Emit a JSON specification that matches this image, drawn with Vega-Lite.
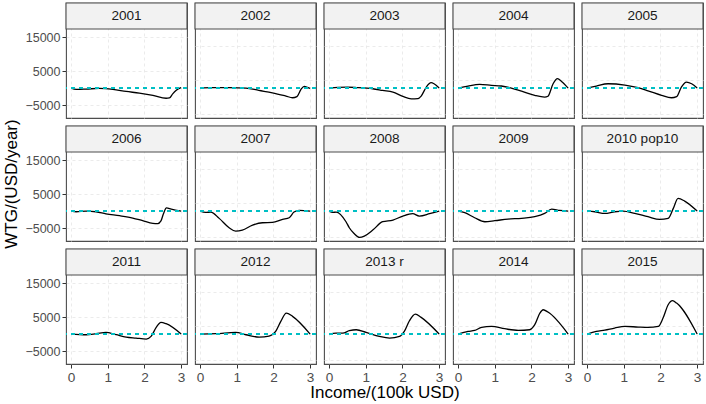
{
  "$schema": "https://vega.github.io/schema/vega-lite/v6.json",
  "description": "WTG by income, one panel per survey year",
  "background": "white",
  "padding": {"left": 2, "top": 1, "right": 1, "bottom": 0},
  "data": {
    "values": [
      {"year": "2001", "income": 0, "wtg": 0}, {"year": "2001", "income": 0.14, "wtg": -400}, {"year": "2001", "income": 0.41, "wtg": -300}, {"year": "2001", "income": 0.77, "wtg": -100}, {"year": "2001", "income": 1.14, "wtg": -400}, {"year": "2001", "income": 1.5, "wtg": -1000}, {"year": "2001", "income": 1.86, "wtg": -1500}, {"year": "2001", "income": 2.23, "wtg": -2150}, {"year": "2001", "income": 2.59, "wtg": -3000}, {"year": "2001", "income": 2.68, "wtg": -2900}, {"year": "2001", "income": 2.77, "wtg": -1700}, {"year": "2001", "income": 2.86, "wtg": -700}, {"year": "2001", "income": 3, "wtg": 100},
      {"year": "2002", "income": 0, "wtg": 0}, {"year": "2002", "income": 0.3, "wtg": 100}, {"year": "2002", "income": 0.8, "wtg": 100}, {"year": "2002", "income": 1.25, "wtg": 0}, {"year": "2002", "income": 1.6, "wtg": -700}, {"year": "2002", "income": 1.97, "wtg": -1400}, {"year": "2002", "income": 2.34, "wtg": -2350}, {"year": "2002", "income": 2.52, "wtg": -2850}, {"year": "2002", "income": 2.64, "wtg": -2500}, {"year": "2002", "income": 2.75, "wtg": -400}, {"year": "2002", "income": 2.84, "wtg": 500}, {"year": "2002", "income": 2.93, "wtg": 200}, {"year": "2002", "income": 3, "wtg": -100},
      {"year": "2003", "income": 0, "wtg": 0}, {"year": "2003", "income": 0.25, "wtg": 200}, {"year": "2003", "income": 0.5, "wtg": 250}, {"year": "2003", "income": 0.75, "wtg": 150}, {"year": "2003", "income": 1.19, "wtg": -200}, {"year": "2003", "income": 1.46, "wtg": -700}, {"year": "2003", "income": 1.74, "wtg": -1200}, {"year": "2003", "income": 2.01, "wtg": -2450}, {"year": "2003", "income": 2.24, "wtg": -3150}, {"year": "2003", "income": 2.42, "wtg": -3100}, {"year": "2003", "income": 2.51, "wtg": -2350}, {"year": "2003", "income": 2.65, "wtg": 300}, {"year": "2003", "income": 2.78, "wtg": 1570}, {"year": "2003", "income": 2.86, "wtg": 1270}, {"year": "2003", "income": 3, "wtg": 0},
      {"year": "2004", "income": 0, "wtg": 0}, {"year": "2004", "income": 0.27, "wtg": 600}, {"year": "2004", "income": 0.59, "wtg": 1080}, {"year": "2004", "income": 0.91, "wtg": 800}, {"year": "2004", "income": 1.18, "wtg": 600}, {"year": "2004", "income": 1.45, "wtg": 0}, {"year": "2004", "income": 1.73, "wtg": -900}, {"year": "2004", "income": 2.09, "wtg": -2150}, {"year": "2004", "income": 2.36, "wtg": -2650}, {"year": "2004", "income": 2.45, "wtg": -2400}, {"year": "2004", "income": 2.59, "wtg": 1270}, {"year": "2004", "income": 2.71, "wtg": 2750}, {"year": "2004", "income": 2.82, "wtg": 1960}, {"year": "2004", "income": 3, "wtg": 0},
      {"year": "2005", "income": 0, "wtg": 0}, {"year": "2005", "income": 0.25, "wtg": 600}, {"year": "2005", "income": 0.57, "wtg": 1270}, {"year": "2005", "income": 1.03, "wtg": 880}, {"year": "2005", "income": 1.39, "wtg": 100}, {"year": "2005", "income": 1.66, "wtg": -800}, {"year": "2005", "income": 2.03, "wtg": -2150}, {"year": "2005", "income": 2.3, "wtg": -2850}, {"year": "2005", "income": 2.44, "wtg": -2500}, {"year": "2005", "income": 2.57, "wtg": 300}, {"year": "2005", "income": 2.71, "wtg": 1760}, {"year": "2005", "income": 2.85, "wtg": 1270}, {"year": "2005", "income": 3, "wtg": 0},
      {"year": "2006", "income": 0, "wtg": 0}, {"year": "2006", "income": 0.14, "wtg": -200}, {"year": "2006", "income": 0.41, "wtg": 0}, {"year": "2006", "income": 0.68, "wtg": -200}, {"year": "2006", "income": 0.95, "wtg": -800}, {"year": "2006", "income": 1.32, "wtg": -1370}, {"year": "2006", "income": 1.68, "wtg": -2060}, {"year": "2006", "income": 1.95, "wtg": -2840}, {"year": "2006", "income": 2.23, "wtg": -3630}, {"year": "2006", "income": 2.36, "wtg": -3700}, {"year": "2006", "income": 2.45, "wtg": -2900}, {"year": "2006", "income": 2.52, "wtg": -700}, {"year": "2006", "income": 2.6, "wtg": 950}, {"year": "2006", "income": 2.73, "wtg": 600}, {"year": "2006", "income": 3, "wtg": 0},
      {"year": "2007", "income": 0, "wtg": 0}, {"year": "2007", "income": 0.15, "wtg": -400}, {"year": "2007", "income": 0.29, "wtg": -300}, {"year": "2007", "income": 0.52, "wtg": -2150}, {"year": "2007", "income": 0.79, "wtg": -4900}, {"year": "2007", "income": 0.97, "wtg": -5880}, {"year": "2007", "income": 1.15, "wtg": -5590}, {"year": "2007", "income": 1.43, "wtg": -4120}, {"year": "2007", "income": 1.7, "wtg": -3430}, {"year": "2007", "income": 1.97, "wtg": -3330}, {"year": "2007", "income": 2.25, "wtg": -2450}, {"year": "2007", "income": 2.43, "wtg": -1960}, {"year": "2007", "income": 2.56, "wtg": -290}, {"year": "2007", "income": 2.7, "wtg": 200}, {"year": "2007", "income": 3, "wtg": 0},
      {"year": "2008", "income": 0, "wtg": 0}, {"year": "2008", "income": 0.1, "wtg": -400}, {"year": "2008", "income": 0.19, "wtg": -300}, {"year": "2008", "income": 0.46, "wtg": -3140}, {"year": "2008", "income": 0.55, "wtg": -4900}, {"year": "2008", "income": 0.68, "wtg": -6600}, {"year": "2008", "income": 0.83, "wtg": -7750}, {"year": "2008", "income": 0.96, "wtg": -7350}, {"year": "2008", "income": 1.19, "wtg": -5590}, {"year": "2008", "income": 1.46, "wtg": -3140}, {"year": "2008", "income": 1.74, "wtg": -2650}, {"year": "2008", "income": 2.01, "wtg": -1470}, {"year": "2008", "income": 2.28, "wtg": -780}, {"year": "2008", "income": 2.46, "wtg": -1470}, {"year": "2008", "income": 2.74, "wtg": -780}, {"year": "2008", "income": 3, "wtg": 0},
      {"year": "2009", "income": 0, "wtg": 0}, {"year": "2009", "income": 0.18, "wtg": -490}, {"year": "2009", "income": 0.45, "wtg": -1960}, {"year": "2009", "income": 0.73, "wtg": -3140}, {"year": "2009", "income": 1.0, "wtg": -2840}, {"year": "2009", "income": 1.36, "wtg": -2350}, {"year": "2009", "income": 1.73, "wtg": -2150}, {"year": "2009", "income": 2.09, "wtg": -1670}, {"year": "2009", "income": 2.36, "wtg": -690}, {"year": "2009", "income": 2.55, "wtg": 590}, {"year": "2009", "income": 2.77, "wtg": 200}, {"year": "2009", "income": 3, "wtg": 0},
      {"year": "2010 pop10", "income": 0, "wtg": 0}, {"year": "2010 pop10", "income": 0.21, "wtg": -200}, {"year": "2010 pop10", "income": 0.48, "wtg": -690}, {"year": "2010 pop10", "income": 0.75, "wtg": -200}, {"year": "2010 pop10", "income": 0.98, "wtg": 0}, {"year": "2010 pop10", "income": 1.3, "wtg": -690}, {"year": "2010 pop10", "income": 1.66, "wtg": -1670}, {"year": "2010 pop10", "income": 1.98, "wtg": -2450}, {"year": "2010 pop10", "income": 2.21, "wtg": -2150}, {"year": "2010 pop10", "income": 2.35, "wtg": 780}, {"year": "2010 pop10", "income": 2.48, "wtg": 3720}, {"year": "2010 pop10", "income": 2.66, "wtg": 2940}, {"year": "2010 pop10", "income": 3, "wtg": 0},
      {"year": "2011", "income": 0, "wtg": 0}, {"year": "2011", "income": 0.41, "wtg": -200}, {"year": "2011", "income": 0.68, "wtg": 100}, {"year": "2011", "income": 0.95, "wtg": 490}, {"year": "2011", "income": 1.23, "wtg": -200}, {"year": "2011", "income": 1.5, "wtg": -880}, {"year": "2011", "income": 1.77, "wtg": -1180}, {"year": "2011", "income": 2.05, "wtg": -1470}, {"year": "2011", "income": 2.18, "wtg": -690}, {"year": "2011", "income": 2.32, "wtg": 1960}, {"year": "2011", "income": 2.45, "wtg": 3430}, {"year": "2011", "income": 2.59, "wtg": 3040}, {"year": "2011", "income": 3, "wtg": 0},
      {"year": "2012", "income": 0, "wtg": 0}, {"year": "2012", "income": 0.43, "wtg": 100}, {"year": "2012", "income": 0.97, "wtg": 490}, {"year": "2012", "income": 1.25, "wtg": -200}, {"year": "2012", "income": 1.61, "wtg": -880}, {"year": "2012", "income": 1.88, "wtg": -590}, {"year": "2012", "income": 2.06, "wtg": 780}, {"year": "2012", "income": 2.2, "wtg": 3720}, {"year": "2012", "income": 2.35, "wtg": 6180}, {"year": "2012", "income": 2.52, "wtg": 5200}, {"year": "2012", "income": 3, "wtg": 0},
      {"year": "2013 r", "income": 0, "wtg": 0}, {"year": "2013 r", "income": 0.19, "wtg": 300}, {"year": "2013 r", "income": 0.37, "wtg": 300}, {"year": "2013 r", "income": 0.55, "wtg": 980}, {"year": "2013 r", "income": 0.74, "wtg": 1270}, {"year": "2013 r", "income": 1.01, "wtg": 490}, {"year": "2013 r", "income": 1.37, "wtg": -690}, {"year": "2013 r", "income": 1.65, "wtg": -1180}, {"year": "2013 r", "income": 1.92, "wtg": -690}, {"year": "2013 r", "income": 2.05, "wtg": 780}, {"year": "2013 r", "income": 2.19, "wtg": 3920}, {"year": "2013 r", "income": 2.35, "wtg": 5880}, {"year": "2013 r", "income": 2.51, "wtg": 4900}, {"year": "2013 r", "income": 3, "wtg": 0},
      {"year": "2014", "income": 0, "wtg": 0}, {"year": "2014", "income": 0.27, "wtg": 780}, {"year": "2014", "income": 0.45, "wtg": 1080}, {"year": "2014", "income": 0.64, "wtg": 1960}, {"year": "2014", "income": 0.91, "wtg": 2250}, {"year": "2014", "income": 1.27, "wtg": 1570}, {"year": "2014", "income": 1.64, "wtg": 1080}, {"year": "2014", "income": 1.95, "wtg": 1270}, {"year": "2014", "income": 2.09, "wtg": 2750}, {"year": "2014", "income": 2.23, "wtg": 6180}, {"year": "2014", "income": 2.32, "wtg": 7150}, {"year": "2014", "income": 2.45, "wtg": 6470}, {"year": "2014", "income": 3, "wtg": 0},
      {"year": "2015", "income": 0, "wtg": 0}, {"year": "2015", "income": 0.25, "wtg": 780}, {"year": "2015", "income": 0.48, "wtg": 1170}, {"year": "2015", "income": 0.75, "wtg": 1760}, {"year": "2015", "income": 1.03, "wtg": 2250}, {"year": "2015", "income": 1.39, "wtg": 2060}, {"year": "2015", "income": 1.66, "wtg": 1960}, {"year": "2015", "income": 1.94, "wtg": 2250}, {"year": "2015", "income": 2.07, "wtg": 4700}, {"year": "2015", "income": 2.21, "wtg": 8620}, {"year": "2015", "income": 2.33, "wtg": 9800}, {"year": "2015", "income": 2.44, "wtg": 9110}, {"year": "2015", "income": 3, "wtg": 0}
    ]
  },
  "columns": 5,
  "bounds": "flush",
  "spacing": {"row": 8, "column": 8},
  "concat": [
    {"transform": [{"filter": "datum.year == '2001'"}], "width": 121, "height": 115, "layer": [
      {"mark": {"type": "line", "color": "black", "strokeWidth": 1.3, "interpolate": "monotone"}, "encoding": {
        "x": {"field": "income", "type": "quantitative", "title": null, "scale": {"domain": [-0.14, 3.16], "nice": false, "zero": false}, "axis": {"values": [0, 0.5, 1, 1.5, 2, 2.5, 3], "labels": false, "ticks": false}},
        "y": {"field": "wtg", "type": "quantitative", "title": null, "scale": {"domain": [-8800, 25000], "nice": false, "zero": false}, "axis": {"values": [-5000, 0, 5000, 10000, 15000], "format": "d", "labelOverlap": false, "labelSeparation": -4, "labelFontSize": 12.5}}}},
      {"mark": {"type": "rule", "color": "#00BFC4", "strokeWidth": 1.3, "strokeDash": [4, 4]}, "encoding": {"y": {"datum": 0, "type": "quantitative", "title": null}}},
      {"transform": [{"aggregate": [{"op": "count", "as": "n"}], "groupby": ["year"]}], "mark": {"type": "rect", "fill": "#F2F2F2", "stroke": "#4D4D4D", "strokeWidth": 1.1}, "encoding": {"x": {"datum": -0.14, "type": "quantitative", "title": null}, "x2": {"datum": 3.16}, "y": {"datum": 17350, "type": "quantitative", "title": null}, "y2": {"datum": 25000}}},
      {"transform": [{"aggregate": [{"op": "count", "as": "n"}], "groupby": ["year"]}], "mark": {"type": "text", "fontSize": 13.6, "color": "#1A1A1A"}, "encoding": {"x": {"datum": 1.51, "type": "quantitative", "title": null}, "y": {"datum": 21175, "type": "quantitative", "title": null}, "text": {"field": "year", "type": "nominal"}}}
    ]},
    {"transform": [{"filter": "datum.year == '2002'"}], "width": 121, "height": 115, "layer": [
      {"mark": {"type": "line", "color": "black", "strokeWidth": 1.3, "interpolate": "monotone"}, "encoding": {
        "x": {"field": "income", "type": "quantitative", "title": null, "scale": {"domain": [-0.14, 3.16], "nice": false, "zero": false}, "axis": {"values": [0, 0.5, 1, 1.5, 2, 2.5, 3], "labels": false, "ticks": false}},
        "y": {"field": "wtg", "type": "quantitative", "title": null, "scale": {"domain": [-8800, 25000], "nice": false, "zero": false}, "axis": {"values": [-7500, -5000, -2500, 0, 2500, 5000, 7500, 10000, 12500, 15000], "labels": false, "ticks": false}}}},
      {"mark": {"type": "rule", "color": "#00BFC4", "strokeWidth": 1.3, "strokeDash": [4, 4]}, "encoding": {"y": {"datum": 0, "type": "quantitative", "title": null}}},
      {"transform": [{"aggregate": [{"op": "count", "as": "n"}], "groupby": ["year"]}], "mark": {"type": "rect", "fill": "#F2F2F2", "stroke": "#4D4D4D", "strokeWidth": 1.1}, "encoding": {"x": {"datum": -0.14, "type": "quantitative", "title": null}, "x2": {"datum": 3.16}, "y": {"datum": 17350, "type": "quantitative", "title": null}, "y2": {"datum": 25000}}},
      {"transform": [{"aggregate": [{"op": "count", "as": "n"}], "groupby": ["year"]}], "mark": {"type": "text", "fontSize": 13.6, "color": "#1A1A1A"}, "encoding": {"x": {"datum": 1.51, "type": "quantitative", "title": null}, "y": {"datum": 21175, "type": "quantitative", "title": null}, "text": {"field": "year", "type": "nominal"}}}
    ]},
    {"transform": [{"filter": "datum.year == '2003'"}], "width": 121, "height": 115, "layer": [
      {"mark": {"type": "line", "color": "black", "strokeWidth": 1.3, "interpolate": "monotone"}, "encoding": {
        "x": {"field": "income", "type": "quantitative", "title": null, "scale": {"domain": [-0.14, 3.16], "nice": false, "zero": false}, "axis": {"values": [0, 0.5, 1, 1.5, 2, 2.5, 3], "labels": false, "ticks": false}},
        "y": {"field": "wtg", "type": "quantitative", "title": null, "scale": {"domain": [-8800, 25000], "nice": false, "zero": false}, "axis": {"values": [-7500, -5000, -2500, 0, 2500, 5000, 7500, 10000, 12500, 15000], "labels": false, "ticks": false}}}},
      {"mark": {"type": "rule", "color": "#00BFC4", "strokeWidth": 1.3, "strokeDash": [4, 4]}, "encoding": {"y": {"datum": 0, "type": "quantitative", "title": null}}},
      {"transform": [{"aggregate": [{"op": "count", "as": "n"}], "groupby": ["year"]}], "mark": {"type": "rect", "fill": "#F2F2F2", "stroke": "#4D4D4D", "strokeWidth": 1.1}, "encoding": {"x": {"datum": -0.14, "type": "quantitative", "title": null}, "x2": {"datum": 3.16}, "y": {"datum": 17350, "type": "quantitative", "title": null}, "y2": {"datum": 25000}}},
      {"transform": [{"aggregate": [{"op": "count", "as": "n"}], "groupby": ["year"]}], "mark": {"type": "text", "fontSize": 13.6, "color": "#1A1A1A"}, "encoding": {"x": {"datum": 1.51, "type": "quantitative", "title": null}, "y": {"datum": 21175, "type": "quantitative", "title": null}, "text": {"field": "year", "type": "nominal"}}}
    ]},
    {"transform": [{"filter": "datum.year == '2004'"}], "width": 121, "height": 115, "layer": [
      {"mark": {"type": "line", "color": "black", "strokeWidth": 1.3, "interpolate": "monotone"}, "encoding": {
        "x": {"field": "income", "type": "quantitative", "title": null, "scale": {"domain": [-0.14, 3.16], "nice": false, "zero": false}, "axis": {"values": [0, 0.5, 1, 1.5, 2, 2.5, 3], "labels": false, "ticks": false}},
        "y": {"field": "wtg", "type": "quantitative", "title": null, "scale": {"domain": [-8800, 25000], "nice": false, "zero": false}, "axis": {"values": [-7500, -5000, -2500, 0, 2500, 5000, 7500, 10000, 12500, 15000], "labels": false, "ticks": false}}}},
      {"mark": {"type": "rule", "color": "#00BFC4", "strokeWidth": 1.3, "strokeDash": [4, 4]}, "encoding": {"y": {"datum": 0, "type": "quantitative", "title": null}}},
      {"transform": [{"aggregate": [{"op": "count", "as": "n"}], "groupby": ["year"]}], "mark": {"type": "rect", "fill": "#F2F2F2", "stroke": "#4D4D4D", "strokeWidth": 1.1}, "encoding": {"x": {"datum": -0.14, "type": "quantitative", "title": null}, "x2": {"datum": 3.16}, "y": {"datum": 17350, "type": "quantitative", "title": null}, "y2": {"datum": 25000}}},
      {"transform": [{"aggregate": [{"op": "count", "as": "n"}], "groupby": ["year"]}], "mark": {"type": "text", "fontSize": 13.6, "color": "#1A1A1A"}, "encoding": {"x": {"datum": 1.51, "type": "quantitative", "title": null}, "y": {"datum": 21175, "type": "quantitative", "title": null}, "text": {"field": "year", "type": "nominal"}}}
    ]},
    {"transform": [{"filter": "datum.year == '2005'"}], "width": 121, "height": 115, "layer": [
      {"mark": {"type": "line", "color": "black", "strokeWidth": 1.3, "interpolate": "monotone"}, "encoding": {
        "x": {"field": "income", "type": "quantitative", "title": null, "scale": {"domain": [-0.14, 3.16], "nice": false, "zero": false}, "axis": {"values": [0, 0.5, 1, 1.5, 2, 2.5, 3], "labels": false, "ticks": false}},
        "y": {"field": "wtg", "type": "quantitative", "title": null, "scale": {"domain": [-8800, 25000], "nice": false, "zero": false}, "axis": {"values": [-7500, -5000, -2500, 0, 2500, 5000, 7500, 10000, 12500, 15000], "labels": false, "ticks": false}}}},
      {"mark": {"type": "rule", "color": "#00BFC4", "strokeWidth": 1.3, "strokeDash": [4, 4]}, "encoding": {"y": {"datum": 0, "type": "quantitative", "title": null}}},
      {"transform": [{"aggregate": [{"op": "count", "as": "n"}], "groupby": ["year"]}], "mark": {"type": "rect", "fill": "#F2F2F2", "stroke": "#4D4D4D", "strokeWidth": 1.1}, "encoding": {"x": {"datum": -0.14, "type": "quantitative", "title": null}, "x2": {"datum": 3.16}, "y": {"datum": 17350, "type": "quantitative", "title": null}, "y2": {"datum": 25000}}},
      {"transform": [{"aggregate": [{"op": "count", "as": "n"}], "groupby": ["year"]}], "mark": {"type": "text", "fontSize": 13.6, "color": "#1A1A1A"}, "encoding": {"x": {"datum": 1.51, "type": "quantitative", "title": null}, "y": {"datum": 21175, "type": "quantitative", "title": null}, "text": {"field": "year", "type": "nominal"}}}
    ]},
    {"transform": [{"filter": "datum.year == '2006'"}], "width": 121, "height": 115, "layer": [
      {"mark": {"type": "line", "color": "black", "strokeWidth": 1.3, "interpolate": "monotone"}, "encoding": {
        "x": {"field": "income", "type": "quantitative", "title": null, "scale": {"domain": [-0.14, 3.16], "nice": false, "zero": false}, "axis": {"values": [0, 0.5, 1, 1.5, 2, 2.5, 3], "labels": false, "ticks": false}},
        "y": {"field": "wtg", "type": "quantitative", "title": "WTG/(USD/year)", "scale": {"domain": [-8800, 25000], "nice": false, "zero": false}, "axis": {"values": [-5000, 0, 5000, 10000, 15000], "format": "d", "labelOverlap": false, "labelSeparation": -4, "labelFontSize": 12.5}}}},
      {"mark": {"type": "rule", "color": "#00BFC4", "strokeWidth": 1.3, "strokeDash": [4, 4]}, "encoding": {"y": {"datum": 0, "type": "quantitative", "title": null}}},
      {"transform": [{"aggregate": [{"op": "count", "as": "n"}], "groupby": ["year"]}], "mark": {"type": "rect", "fill": "#F2F2F2", "stroke": "#4D4D4D", "strokeWidth": 1.1}, "encoding": {"x": {"datum": -0.14, "type": "quantitative", "title": null}, "x2": {"datum": 3.16}, "y": {"datum": 17350, "type": "quantitative", "title": null}, "y2": {"datum": 25000}}},
      {"transform": [{"aggregate": [{"op": "count", "as": "n"}], "groupby": ["year"]}], "mark": {"type": "text", "fontSize": 13.6, "color": "#1A1A1A"}, "encoding": {"x": {"datum": 1.51, "type": "quantitative", "title": null}, "y": {"datum": 21175, "type": "quantitative", "title": null}, "text": {"field": "year", "type": "nominal"}}}
    ]},
    {"transform": [{"filter": "datum.year == '2007'"}], "width": 121, "height": 115, "layer": [
      {"mark": {"type": "line", "color": "black", "strokeWidth": 1.3, "interpolate": "monotone"}, "encoding": {
        "x": {"field": "income", "type": "quantitative", "title": null, "scale": {"domain": [-0.14, 3.16], "nice": false, "zero": false}, "axis": {"values": [0, 0.5, 1, 1.5, 2, 2.5, 3], "labels": false, "ticks": false}},
        "y": {"field": "wtg", "type": "quantitative", "title": null, "scale": {"domain": [-8800, 25000], "nice": false, "zero": false}, "axis": {"values": [-7500, -5000, -2500, 0, 2500, 5000, 7500, 10000, 12500, 15000], "labels": false, "ticks": false}}}},
      {"mark": {"type": "rule", "color": "#00BFC4", "strokeWidth": 1.3, "strokeDash": [4, 4]}, "encoding": {"y": {"datum": 0, "type": "quantitative", "title": null}}},
      {"transform": [{"aggregate": [{"op": "count", "as": "n"}], "groupby": ["year"]}], "mark": {"type": "rect", "fill": "#F2F2F2", "stroke": "#4D4D4D", "strokeWidth": 1.1}, "encoding": {"x": {"datum": -0.14, "type": "quantitative", "title": null}, "x2": {"datum": 3.16}, "y": {"datum": 17350, "type": "quantitative", "title": null}, "y2": {"datum": 25000}}},
      {"transform": [{"aggregate": [{"op": "count", "as": "n"}], "groupby": ["year"]}], "mark": {"type": "text", "fontSize": 13.6, "color": "#1A1A1A"}, "encoding": {"x": {"datum": 1.51, "type": "quantitative", "title": null}, "y": {"datum": 21175, "type": "quantitative", "title": null}, "text": {"field": "year", "type": "nominal"}}}
    ]},
    {"transform": [{"filter": "datum.year == '2008'"}], "width": 121, "height": 115, "layer": [
      {"mark": {"type": "line", "color": "black", "strokeWidth": 1.3, "interpolate": "monotone"}, "encoding": {
        "x": {"field": "income", "type": "quantitative", "title": null, "scale": {"domain": [-0.14, 3.16], "nice": false, "zero": false}, "axis": {"values": [0, 0.5, 1, 1.5, 2, 2.5, 3], "labels": false, "ticks": false}},
        "y": {"field": "wtg", "type": "quantitative", "title": null, "scale": {"domain": [-8800, 25000], "nice": false, "zero": false}, "axis": {"values": [-7500, -5000, -2500, 0, 2500, 5000, 7500, 10000, 12500, 15000], "labels": false, "ticks": false}}}},
      {"mark": {"type": "rule", "color": "#00BFC4", "strokeWidth": 1.3, "strokeDash": [4, 4]}, "encoding": {"y": {"datum": 0, "type": "quantitative", "title": null}}},
      {"transform": [{"aggregate": [{"op": "count", "as": "n"}], "groupby": ["year"]}], "mark": {"type": "rect", "fill": "#F2F2F2", "stroke": "#4D4D4D", "strokeWidth": 1.1}, "encoding": {"x": {"datum": -0.14, "type": "quantitative", "title": null}, "x2": {"datum": 3.16}, "y": {"datum": 17350, "type": "quantitative", "title": null}, "y2": {"datum": 25000}}},
      {"transform": [{"aggregate": [{"op": "count", "as": "n"}], "groupby": ["year"]}], "mark": {"type": "text", "fontSize": 13.6, "color": "#1A1A1A"}, "encoding": {"x": {"datum": 1.51, "type": "quantitative", "title": null}, "y": {"datum": 21175, "type": "quantitative", "title": null}, "text": {"field": "year", "type": "nominal"}}}
    ]},
    {"transform": [{"filter": "datum.year == '2009'"}], "width": 121, "height": 115, "layer": [
      {"mark": {"type": "line", "color": "black", "strokeWidth": 1.3, "interpolate": "monotone"}, "encoding": {
        "x": {"field": "income", "type": "quantitative", "title": null, "scale": {"domain": [-0.14, 3.16], "nice": false, "zero": false}, "axis": {"values": [0, 0.5, 1, 1.5, 2, 2.5, 3], "labels": false, "ticks": false}},
        "y": {"field": "wtg", "type": "quantitative", "title": null, "scale": {"domain": [-8800, 25000], "nice": false, "zero": false}, "axis": {"values": [-7500, -5000, -2500, 0, 2500, 5000, 7500, 10000, 12500, 15000], "labels": false, "ticks": false}}}},
      {"mark": {"type": "rule", "color": "#00BFC4", "strokeWidth": 1.3, "strokeDash": [4, 4]}, "encoding": {"y": {"datum": 0, "type": "quantitative", "title": null}}},
      {"transform": [{"aggregate": [{"op": "count", "as": "n"}], "groupby": ["year"]}], "mark": {"type": "rect", "fill": "#F2F2F2", "stroke": "#4D4D4D", "strokeWidth": 1.1}, "encoding": {"x": {"datum": -0.14, "type": "quantitative", "title": null}, "x2": {"datum": 3.16}, "y": {"datum": 17350, "type": "quantitative", "title": null}, "y2": {"datum": 25000}}},
      {"transform": [{"aggregate": [{"op": "count", "as": "n"}], "groupby": ["year"]}], "mark": {"type": "text", "fontSize": 13.6, "color": "#1A1A1A"}, "encoding": {"x": {"datum": 1.51, "type": "quantitative", "title": null}, "y": {"datum": 21175, "type": "quantitative", "title": null}, "text": {"field": "year", "type": "nominal"}}}
    ]},
    {"transform": [{"filter": "datum.year == '2010 pop10'"}], "width": 121, "height": 115, "layer": [
      {"mark": {"type": "line", "color": "black", "strokeWidth": 1.3, "interpolate": "monotone"}, "encoding": {
        "x": {"field": "income", "type": "quantitative", "title": null, "scale": {"domain": [-0.14, 3.16], "nice": false, "zero": false}, "axis": {"values": [0, 0.5, 1, 1.5, 2, 2.5, 3], "labels": false, "ticks": false}},
        "y": {"field": "wtg", "type": "quantitative", "title": null, "scale": {"domain": [-8800, 25000], "nice": false, "zero": false}, "axis": {"values": [-7500, -5000, -2500, 0, 2500, 5000, 7500, 10000, 12500, 15000], "labels": false, "ticks": false}}}},
      {"mark": {"type": "rule", "color": "#00BFC4", "strokeWidth": 1.3, "strokeDash": [4, 4]}, "encoding": {"y": {"datum": 0, "type": "quantitative", "title": null}}},
      {"transform": [{"aggregate": [{"op": "count", "as": "n"}], "groupby": ["year"]}], "mark": {"type": "rect", "fill": "#F2F2F2", "stroke": "#4D4D4D", "strokeWidth": 1.1}, "encoding": {"x": {"datum": -0.14, "type": "quantitative", "title": null}, "x2": {"datum": 3.16}, "y": {"datum": 17350, "type": "quantitative", "title": null}, "y2": {"datum": 25000}}},
      {"transform": [{"aggregate": [{"op": "count", "as": "n"}], "groupby": ["year"]}], "mark": {"type": "text", "fontSize": 13.6, "color": "#1A1A1A"}, "encoding": {"x": {"datum": 1.51, "type": "quantitative", "title": null}, "y": {"datum": 21175, "type": "quantitative", "title": null}, "text": {"field": "year", "type": "nominal"}}}
    ]},
    {"transform": [{"filter": "datum.year == '2011'"}], "width": 121, "height": 115, "layer": [
      {"mark": {"type": "line", "color": "black", "strokeWidth": 1.3, "interpolate": "monotone"}, "encoding": {
        "x": {"field": "income", "type": "quantitative", "title": null, "scale": {"domain": [-0.14, 3.16], "nice": false, "zero": false}, "axis": {"values": [0, 0.5, 1, 1.5, 2, 2.5, 3], "format": "~g", "labelOverlap": false, "labelExpr": "datum.value % 1 == 0 ? datum.label : ''", "tickOpacity": {"condition": {"test": "datum.value % 1 != 0", "value": 0}, "value": 1}, "labelFlush": false}},
        "y": {"field": "wtg", "type": "quantitative", "title": null, "scale": {"domain": [-8800, 25000], "nice": false, "zero": false}, "axis": {"values": [-5000, 0, 5000, 10000, 15000], "format": "d", "labelOverlap": false, "labelSeparation": -4, "labelFontSize": 12.5}}}},
      {"mark": {"type": "rule", "color": "#00BFC4", "strokeWidth": 1.3, "strokeDash": [4, 4]}, "encoding": {"y": {"datum": 0, "type": "quantitative", "title": null}}},
      {"transform": [{"aggregate": [{"op": "count", "as": "n"}], "groupby": ["year"]}], "mark": {"type": "rect", "fill": "#F2F2F2", "stroke": "#4D4D4D", "strokeWidth": 1.1}, "encoding": {"x": {"datum": -0.14, "type": "quantitative", "title": null}, "x2": {"datum": 3.16}, "y": {"datum": 17350, "type": "quantitative", "title": null}, "y2": {"datum": 25000}}},
      {"transform": [{"aggregate": [{"op": "count", "as": "n"}], "groupby": ["year"]}], "mark": {"type": "text", "fontSize": 13.6, "color": "#1A1A1A"}, "encoding": {"x": {"datum": 1.51, "type": "quantitative", "title": null}, "y": {"datum": 21175, "type": "quantitative", "title": null}, "text": {"field": "year", "type": "nominal"}}}
    ]},
    {"transform": [{"filter": "datum.year == '2012'"}], "width": 121, "height": 115, "layer": [
      {"mark": {"type": "line", "color": "black", "strokeWidth": 1.3, "interpolate": "monotone"}, "encoding": {
        "x": {"field": "income", "type": "quantitative", "title": null, "scale": {"domain": [-0.14, 3.16], "nice": false, "zero": false}, "axis": {"values": [0, 0.5, 1, 1.5, 2, 2.5, 3], "format": "~g", "labelOverlap": false, "labelExpr": "datum.value % 1 == 0 ? datum.label : ''", "tickOpacity": {"condition": {"test": "datum.value % 1 != 0", "value": 0}, "value": 1}, "labelFlush": false}},
        "y": {"field": "wtg", "type": "quantitative", "title": null, "scale": {"domain": [-8800, 25000], "nice": false, "zero": false}, "axis": {"values": [-7500, -5000, -2500, 0, 2500, 5000, 7500, 10000, 12500, 15000], "labels": false, "ticks": false}}}},
      {"mark": {"type": "rule", "color": "#00BFC4", "strokeWidth": 1.3, "strokeDash": [4, 4]}, "encoding": {"y": {"datum": 0, "type": "quantitative", "title": null}}},
      {"transform": [{"aggregate": [{"op": "count", "as": "n"}], "groupby": ["year"]}], "mark": {"type": "rect", "fill": "#F2F2F2", "stroke": "#4D4D4D", "strokeWidth": 1.1}, "encoding": {"x": {"datum": -0.14, "type": "quantitative", "title": null}, "x2": {"datum": 3.16}, "y": {"datum": 17350, "type": "quantitative", "title": null}, "y2": {"datum": 25000}}},
      {"transform": [{"aggregate": [{"op": "count", "as": "n"}], "groupby": ["year"]}], "mark": {"type": "text", "fontSize": 13.6, "color": "#1A1A1A"}, "encoding": {"x": {"datum": 1.51, "type": "quantitative", "title": null}, "y": {"datum": 21175, "type": "quantitative", "title": null}, "text": {"field": "year", "type": "nominal"}}}
    ]},
    {"transform": [{"filter": "datum.year == '2013 r'"}], "width": 121, "height": 115, "layer": [
      {"mark": {"type": "line", "color": "black", "strokeWidth": 1.3, "interpolate": "monotone"}, "encoding": {
        "x": {"field": "income", "type": "quantitative", "title": "Income/(100k USD)", "scale": {"domain": [-0.14, 3.16], "nice": false, "zero": false}, "axis": {"values": [0, 0.5, 1, 1.5, 2, 2.5, 3], "format": "~g", "labelOverlap": false, "labelExpr": "datum.value % 1 == 0 ? datum.label : ''", "tickOpacity": {"condition": {"test": "datum.value % 1 != 0", "value": 0}, "value": 1}, "labelFlush": false, "titlePadding": 1}},
        "y": {"field": "wtg", "type": "quantitative", "title": null, "scale": {"domain": [-8800, 25000], "nice": false, "zero": false}, "axis": {"values": [-7500, -5000, -2500, 0, 2500, 5000, 7500, 10000, 12500, 15000], "labels": false, "ticks": false}}}},
      {"mark": {"type": "rule", "color": "#00BFC4", "strokeWidth": 1.3, "strokeDash": [4, 4]}, "encoding": {"y": {"datum": 0, "type": "quantitative", "title": null}}},
      {"transform": [{"aggregate": [{"op": "count", "as": "n"}], "groupby": ["year"]}], "mark": {"type": "rect", "fill": "#F2F2F2", "stroke": "#4D4D4D", "strokeWidth": 1.1}, "encoding": {"x": {"datum": -0.14, "type": "quantitative", "title": null}, "x2": {"datum": 3.16}, "y": {"datum": 17350, "type": "quantitative", "title": null}, "y2": {"datum": 25000}}},
      {"transform": [{"aggregate": [{"op": "count", "as": "n"}], "groupby": ["year"]}], "mark": {"type": "text", "fontSize": 13.6, "color": "#1A1A1A"}, "encoding": {"x": {"datum": 1.51, "type": "quantitative", "title": null}, "y": {"datum": 21175, "type": "quantitative", "title": null}, "text": {"field": "year", "type": "nominal"}}}
    ]},
    {"transform": [{"filter": "datum.year == '2014'"}], "width": 121, "height": 115, "layer": [
      {"mark": {"type": "line", "color": "black", "strokeWidth": 1.3, "interpolate": "monotone"}, "encoding": {
        "x": {"field": "income", "type": "quantitative", "title": null, "scale": {"domain": [-0.14, 3.16], "nice": false, "zero": false}, "axis": {"values": [0, 0.5, 1, 1.5, 2, 2.5, 3], "format": "~g", "labelOverlap": false, "labelExpr": "datum.value % 1 == 0 ? datum.label : ''", "tickOpacity": {"condition": {"test": "datum.value % 1 != 0", "value": 0}, "value": 1}, "labelFlush": false}},
        "y": {"field": "wtg", "type": "quantitative", "title": null, "scale": {"domain": [-8800, 25000], "nice": false, "zero": false}, "axis": {"values": [-7500, -5000, -2500, 0, 2500, 5000, 7500, 10000, 12500, 15000], "labels": false, "ticks": false}}}},
      {"mark": {"type": "rule", "color": "#00BFC4", "strokeWidth": 1.3, "strokeDash": [4, 4]}, "encoding": {"y": {"datum": 0, "type": "quantitative", "title": null}}},
      {"transform": [{"aggregate": [{"op": "count", "as": "n"}], "groupby": ["year"]}], "mark": {"type": "rect", "fill": "#F2F2F2", "stroke": "#4D4D4D", "strokeWidth": 1.1}, "encoding": {"x": {"datum": -0.14, "type": "quantitative", "title": null}, "x2": {"datum": 3.16}, "y": {"datum": 17350, "type": "quantitative", "title": null}, "y2": {"datum": 25000}}},
      {"transform": [{"aggregate": [{"op": "count", "as": "n"}], "groupby": ["year"]}], "mark": {"type": "text", "fontSize": 13.6, "color": "#1A1A1A"}, "encoding": {"x": {"datum": 1.51, "type": "quantitative", "title": null}, "y": {"datum": 21175, "type": "quantitative", "title": null}, "text": {"field": "year", "type": "nominal"}}}
    ]},
    {"transform": [{"filter": "datum.year == '2015'"}], "width": 121, "height": 115, "layer": [
      {"mark": {"type": "line", "color": "black", "strokeWidth": 1.3, "interpolate": "monotone"}, "encoding": {
        "x": {"field": "income", "type": "quantitative", "title": null, "scale": {"domain": [-0.14, 3.16], "nice": false, "zero": false}, "axis": {"values": [0, 0.5, 1, 1.5, 2, 2.5, 3], "format": "~g", "labelOverlap": false, "labelExpr": "datum.value % 1 == 0 ? datum.label : ''", "tickOpacity": {"condition": {"test": "datum.value % 1 != 0", "value": 0}, "value": 1}, "labelFlush": false}},
        "y": {"field": "wtg", "type": "quantitative", "title": null, "scale": {"domain": [-8800, 25000], "nice": false, "zero": false}, "axis": {"values": [-7500, -5000, -2500, 0, 2500, 5000, 7500, 10000, 12500, 15000], "labels": false, "ticks": false}}}},
      {"mark": {"type": "rule", "color": "#00BFC4", "strokeWidth": 1.3, "strokeDash": [4, 4]}, "encoding": {"y": {"datum": 0, "type": "quantitative", "title": null}}},
      {"transform": [{"aggregate": [{"op": "count", "as": "n"}], "groupby": ["year"]}], "mark": {"type": "rect", "fill": "#F2F2F2", "stroke": "#4D4D4D", "strokeWidth": 1.1}, "encoding": {"x": {"datum": -0.14, "type": "quantitative", "title": null}, "x2": {"datum": 3.16}, "y": {"datum": 17350, "type": "quantitative", "title": null}, "y2": {"datum": 25000}}},
      {"transform": [{"aggregate": [{"op": "count", "as": "n"}], "groupby": ["year"]}], "mark": {"type": "text", "fontSize": 13.6, "color": "#1A1A1A"}, "encoding": {"x": {"datum": 1.51, "type": "quantitative", "title": null}, "y": {"datum": 21175, "type": "quantitative", "title": null}, "text": {"field": "year", "type": "nominal"}}}
    ]}
  ],
  "config": {
    "font": "Liberation Sans",
    "view": {"stroke": "#4D4D4D", "strokeWidth": 1.1},
    "text": {"font": "Liberation Sans"},
    "axis": {
      "domain": false,
      "grid": true,
      "gridColor": "#E6E6E6",
      "gridDash": [3, 3],
      "gridWidth": 0.8,
      "tickColor": "#333333",
      "tickSize": 4,
      "tickWidth": 1,
      "labelFont": "Liberation Sans",
      "labelFontSize": 13.6,
      "labelColor": "#4D4D4D",
      "labelPadding": 2,
      "labelOverlap": false,
      "titleFont": "Liberation Sans",
      "titleFontSize": 17,
      "titleFontWeight": "normal",
      "titleColor": "black",
      "titlePadding": 4
    }
  }
}
